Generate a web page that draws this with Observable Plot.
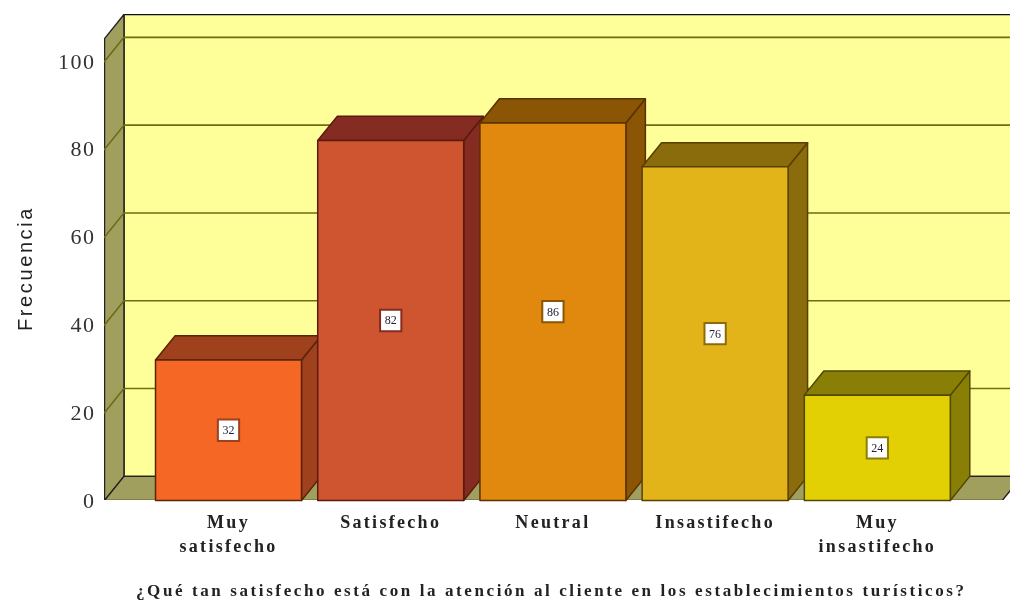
<!DOCTYPE html>
<html>
<head>
<meta charset="utf-8">
<script src="https://cdn.jsdelivr.net/npm/d3@7"></script>
<script src="https://cdn.jsdelivr.net/npm/@observablehq/plot@0.6"></script>
<style>
html,body{margin:0;padding:0;background:#fff;overflow:hidden}
svg{display:block;filter:blur(0.45px)}
g[aria-label="x-axis tick label"]{letter-spacing:2.3px}
g[aria-label="y-axis tick label"]{letter-spacing:1.5px}
.x-title{letter-spacing:2.6px}
.y-title{letter-spacing:2.6px}
</style>
</head>
<body>
<div id="chart"></div>
<script>
const categories = ["Muy\nsatisfecho", "Satisfecho", "Neutral", "Insastifecho", "Muy\ninsastifecho"];
const values = [32, 82, 86, 76, 24];
const positions = [0, 1, 2, 3, 4];
const frontColors = ["#f46724", "#cf5430", "#e0890e", "#e2b41a", "#e2d004"];
const sideColors = ["#9e411c", "#842c22", "#8a5505", "#8a6c0c", "#8a7f06"];
const edgeColors = ["#5a2408", "#5a1a10", "#5a3200", "#5a4000", "#4f4800"];
const gridTicks = [0, 20, 40, 60, 80, 100];
const xTitle = "¿Qué tan satisfecho está con la atención al cliente en los establecimientos turísticos?";
const yTitle = "Frecuencia";

const halfBar = 0.45, depthX = 0.12, depthY = 5.5;
const xMin = -0.7645, xMax = 4.821, yMax = 110.7, floorEnd = 4.77;

function poly(id, fill, stroke, pts) {
  return pts.concat([pts[0]]).map(([x, y]) => ({id, fill, stroke, x, y}));
}

const wallFaces = [
  ...poly("back", "#ffff99", "#111", [[xMin + depthX, depthY], [xMin + depthX, yMax], [xMax + 1, yMax], [xMax + 1, depthY]]),
  ...poly("left", "#a19f5e", "#222", [[xMin, 0], [xMin, yMax - depthY], [xMin + depthX, yMax], [xMin + depthX, depthY]]),
  ...poly("floor", "#a19f5e", "#222", [[xMin, 0], [xMin + depthX, depthY], [floorEnd + depthX, depthY], [floorEnd, 0]])
];
const gridLines = gridTicks.filter(t => t > 0).flatMap(t => [
  {id: t, x: xMin, y: t},
  {id: t, x: xMin + depthX, y: t + depthY},
  {id: t, x: xMax, y: t + depthY}
]);
const barFaces = positions.flatMap(i => {
  const l = i - halfBar, r = i + halfBar, v = values[i];
  return [
    ...poly("s" + i, sideColors[i], edgeColors[i], [[r, 0], [r + depthX, depthY], [r + depthX, v + depthY], [r, v]]),
    ...poly("t" + i, sideColors[i], edgeColors[i], [[l, v], [l + depthX, v + depthY], [r + depthX, v + depthY], [r, v]]),
    ...poly("f" + i, frontColors[i], edgeColors[i], [[l, 0], [l, v], [r, v], [r, 0]])
  ];
});
const labels = positions.map(i => ({x: i, y: values[i] / 2, v: values[i], edge: sideColors[i]}));

const serif = "'Liberation Serif', serif";
const chart = Plot.plot({
  width: 1010, height: 603,
  marginTop: 14, marginBottom: 103, marginLeft: 104, marginRight: 0,
  x: {domain: [xMin, xMax]},
  y: {domain: [0, yMax]},
  marks: [
    Plot.line(wallFaces, {x: "x", y: "y", z: "id", fill: "fill", stroke: "stroke", strokeWidth: 1.4, clip: true}),
    Plot.line(gridLines, {x: "x", y: "y", z: "id", stroke: "#6f6c14", strokeWidth: 1.6, clip: true}),
    Plot.line(barFaces, {x: "x", y: "y", z: "id", fill: "fill", stroke: "stroke", strokeWidth: 1.5}),
    Plot.dot(labels, {x: "x", y: "y", symbol: "square", r: 12, fill: "#fff", stroke: "edge", strokeWidth: 2}),
    Plot.text(labels, {x: "x", y: "y", text: d => String(d.v), fontSize: 12, fontFamily: serif, fill: "#223"}),
    Plot.axisY({ticks: gridTicks, tickSize: 0, tickPadding: 9, label: null, fontSize: 22, fontFamily: serif, fill: "#333"}),
    Plot.axisX({ticks: positions, tickFormat: i => categories[i], tickSize: 0, tickPadding: 10, label: null,
      fontSize: 18, fontWeight: "bold", fontFamily: serif, lineHeight: 1.35, fill: "#222"}),
    Plot.text([xTitle], {x: () => 1.99, y: () => 0, dy: 90, fontSize: 17, fontWeight: "bold", fontFamily: serif, fill: "#222", className: "x-title"}),
    Plot.text([yTitle], {frameAnchor: "left", textAnchor: "middle", rotate: -90, dx: -79, dy: 11, fontSize: 20,
      fontFamily: "'Liberation Sans', sans-serif", fill: "#222", className: "y-title"})
  ]
});
document.getElementById("chart").appendChild(chart);
</script>
</body>
</html>
